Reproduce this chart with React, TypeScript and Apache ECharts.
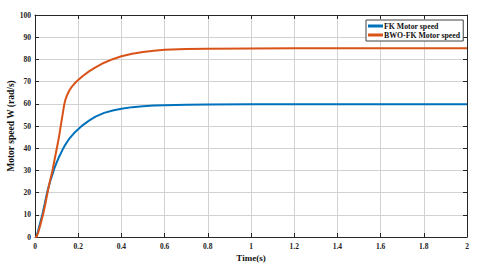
import React, { useEffect, useRef } from "react";
import * as echarts from "echarts";

const seriesNames = ["FK Motor speed", "BWO-FK Motor speed"];

const fkTime = [0, 0.006, 0.015, 0.025, 0.035, 0.045, 0.056, 0.062, 0.07, 0.08, 0.09, 0.1, 0.11, 0.12, 0.13, 0.14, 0.15, 0.16, 0.18, 0.2, 0.22, 0.25, 0.28, 0.32, 0.36, 0.4, 0.45, 0.5, 0.55, 0.6, 0.7, 0.8, 1.0, 1.2, 1.4, 1.6, 1.8, 2.0];
const fkSpeed = [0, 0, 3, 6.8, 10.5, 15, 20, 22.3, 25, 28, 31, 33.5, 35.8, 37.8, 39.8, 41.5, 43, 44.4, 46.7, 48.5, 50.3, 52.4, 54.2, 55.9, 57, 57.8, 58.5, 58.9, 59.2, 59.4, 59.6, 59.7, 59.75, 59.75, 59.8, 59.8, 59.8, 59.8];

const bwoTime = [0, 0.006, 0.015, 0.025, 0.037, 0.048, 0.058, 0.07, 0.081, 0.091, 0.101, 0.111, 0.12, 0.125, 0.13, 0.135, 0.14, 0.145, 0.15, 0.16, 0.17, 0.18, 0.19, 0.2, 0.22, 0.25, 0.28, 0.32, 0.36, 0.4, 0.45, 0.5, 0.55, 0.6, 0.7, 0.8, 1.0, 1.2, 1.4, 1.6, 1.8, 2.0];
const bwoSpeed = [0, 0, 2, 5.5, 10, 15, 20, 25.5, 30, 35, 40, 45, 50.5, 53.5, 56.5, 59.5, 61.6, 63, 64.2, 66.2, 67.6, 68.8, 69.8, 70.7, 72.4, 74.6, 76.4, 78.5, 80.1, 81.4, 82.5, 83.3, 83.9, 84.3, 84.7, 84.85, 84.95, 85, 85, 85, 85, 85];

const xTicks = { min: 0, max: 2, interval: 0.2 };
const yTicks = { min: 0, max: 100, interval: 10 };

const serif = "'Liberation Serif', 'DejaVu Serif', serif";
const axisColor = "#262626";
const gridColor = "#d2d2d2";

function pairs(t: number[], v: number[]) {
  return t.map((x, i) => [x, v[i]]);
}

export default function App() {
  const ref = useRef<HTMLDivElement>(null);
  useEffect(() => {
    if (!ref.current) return;
    const chart = echarts.init(ref.current, null, { renderer: "svg" });
    const hiddenAxis = {
      axisLine: { show: true, onZero: false, lineStyle: { color: axisColor, width: 1 } },
      axisTick: { show: true, inside: true, length: 4, lineStyle: { color: axisColor } },
      axisLabel: { show: false },
      splitLine: { show: false },
    };
    chart.setOption({
      animation: false,
      backgroundColor: "#ffffff",
      grid: { left: 35, right: 13, top: 15, bottom: 33, containLabel: false, outerBoundsMode: "none" },
      legend: {
        data: seriesNames,
        orient: "vertical",
        left: 366,
        top: 20,
        width: 98,
        padding: [2, 3, 2, 2],
        itemGap: 1,
        itemWidth: 15,
        itemHeight: 3,
        icon: "rect",
        borderColor: "#404040",
        borderWidth: 1,
        backgroundColor: "#ffffff",
        textStyle: { fontFamily: serif, fontSize: 7.8, fontWeight: "bold", color: "#111", padding: [0, 0, 0, -4] },
      },
      xAxis: [
        {
          type: "value",
          min: xTicks.min,
          max: xTicks.max,
          interval: xTicks.interval,
          name: "Time(s)",
          nameLocation: "middle",
          nameGap: 16,
          nameMoveOverlap: false,
          nameTextStyle: { fontFamily: serif, fontSize: 9, fontWeight: "bold", color: "#111" },
          axisLine: { show: true, onZero: false, lineStyle: { color: axisColor, width: 1 } },
          axisTick: { show: true, inside: true, length: 4, lineStyle: { color: axisColor } },
          axisLabel: { fontFamily: serif, fontSize: 7.5, fontWeight: "bold", color: "#222", margin: 5 },
          splitLine: { show: true, lineStyle: { color: gridColor, width: 1, type: "solid" } },
        },
        { type: "value", position: "top", min: xTicks.min, max: xTicks.max, interval: xTicks.interval, ...hiddenAxis },
      ],
      yAxis: [
        {
          type: "value",
          min: yTicks.min,
          max: yTicks.max,
          interval: yTicks.interval,
          name: "Motor speed W (rad/s)",
          nameLocation: "middle",
          nameGap: 19,
          nameMoveOverlap: false,
          nameTextStyle: { fontFamily: serif, fontSize: 9.5, fontWeight: "bold", color: "#111" },
          axisLine: { show: true, onZero: false, lineStyle: { color: axisColor, width: 1 } },
          axisTick: { show: true, inside: true, length: 4, lineStyle: { color: axisColor } },
          axisLabel: { fontFamily: serif, fontSize: 7.5, fontWeight: "bold", color: "#222", margin: 4 },
          splitLine: { show: true, lineStyle: { color: gridColor, width: 1, type: "solid" } },
        },
        { type: "value", position: "right", min: yTicks.min, max: yTicks.max, interval: yTicks.interval, ...hiddenAxis },
      ],
      series: [
        {
          name: seriesNames[0],
          type: "line",
          data: pairs(fkTime, fkSpeed),
          showSymbol: false,
          lineStyle: { color: "#0072BD", width: 2 },
          itemStyle: { color: "#0072BD" },
        },
        {
          name: seriesNames[1],
          type: "line",
          data: pairs(bwoTime, bwoSpeed),
          showSymbol: false,
          lineStyle: { color: "#D95319", width: 2 },
          itemStyle: { color: "#D95319" },
        },
      ],
    });
    return () => chart.dispose();
  }, []);
  return <div ref={ref} style={{ position: "fixed", left: 0, top: 0, width: 480, height: 270 }} />;
}
